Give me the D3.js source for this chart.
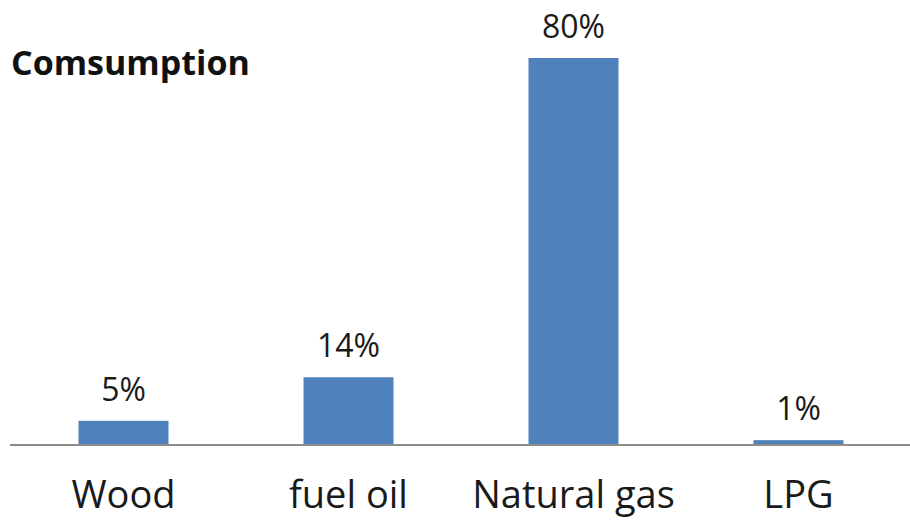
<!DOCTYPE html>
<html>
<head>
<meta charset="utf-8">
<script src="https://cdn.jsdelivr.net/npm/d3@7"></script>
<style>
  html, body { margin: 0; padding: 0; background: #fff; }
  svg { display: block; }
</style>
</head>
<body>
<svg id="chart" width="910" height="522"></svg>
<script>
// Share of fuel consumption by source (%)
const categories = ["Wood", "fuel oil", "Natural gas", "LPG"];
const values = [5, 14, 80, 1];
const valueLabels = ["5%", "14%", "80%", "1%"];
const title = "Comsumption";

const W = 910, H = 522;
const baseY = 445;
const svg = d3.select("#chart");

const x = d3.scaleBand()
  .domain(categories)
  .range([11, 911])
  .paddingInner(0.6)
  .paddingOuter(0.3);

const y = d3.scaleLinear()
  .domain([0, 80])
  .range([baseY, 58]);

// Bars
svg.append("g").selectAll("rect")
  .data(values)
  .join("rect")
  .attr("x", (d, i) => x(categories[i]))
  .attr("y", d => y(d))
  .attr("width", x.bandwidth())
  .attr("height", d => baseY - y(d))
  .attr("fill", "#4F81BD");

// Baseline axis
const axis = d3.axisBottom(x).tickSize(0).tickPadding(0);
const gx = svg.append("g")
  .attr("transform", `translate(0,${baseY})`)
  .call(axis);
gx.select(".domain")
  .attr("d", "M10,0H910")
  .attr("stroke", "#8c8c8c")
  .attr("stroke-width", 2);
gx.selectAll(".tick text")
  .attr("y", 63)
  .attr("dy", null)
  .attr("fill", "#1a1a1a")
  .style("font-family", "'Open Sans', sans-serif")
  .style("font-size", "38px");

// Value labels
svg.append("g").selectAll("text")
  .data(values)
  .join("text")
  .attr("x", (d, i) => x(categories[i]) + x.bandwidth() / 2)
  .attr("y", d => y(d) - 20)
  .attr("text-anchor", "middle")
  .attr("fill", "#1a1a1a")
  .style("font-family", "'Open Sans', sans-serif")
  .style("font-size", "32px")
  .text((d, i) => valueLabels[i]);

// Title
svg.append("text")
  .attr("x", 11)
  .attr("y", 75)
  .attr("fill", "#111")
  .style("font-family", "'Open Sans', sans-serif")
  .style("font-weight", "bold")
  .style("font-size", "34px")
  .text(title);
</script>
</body>
</html>
